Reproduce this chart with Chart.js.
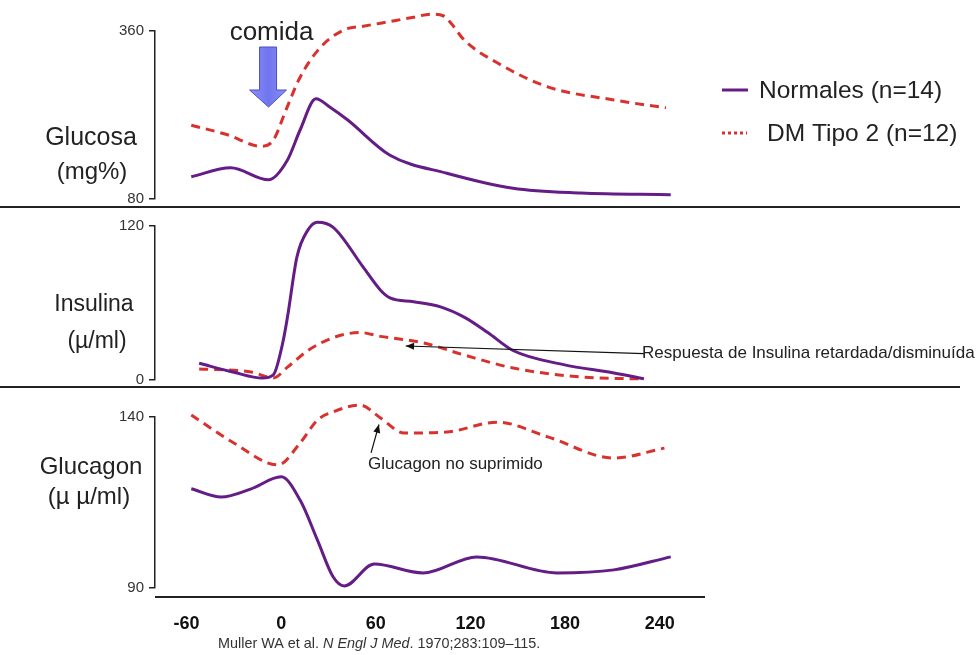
<!DOCTYPE html>
<html>
<head>
<meta charset="utf-8">
<title>Glucosa, insulina y glucagón</title>
<script src="https://cdn.jsdelivr.net/npm/chart.js@4.4.0/dist/chart.umd.min.js"></script>
<style>
  body { margin: 0; background: #fff; }
  #wrap { position: relative; width: 980px; height: 655px; }
  canvas { position: absolute; left: 0; }
</style>
</head>
<body>
<div id="wrap">
  <canvas id="glucosa" width="980" height="208" style="top:0"></canvas>
  <canvas id="insulina" width="980" height="180" style="top:208px"></canvas>
  <canvas id="glucagon" width="980" height="267" style="top:388px"></canvas>
</div>
<script>
// series names and time axis (minutes)
const seriesLabels = ['Normales (n=14)', 'DM Tipo 2 (n=12)'];
const timeTicks = [-60, 0, 60, 120, 180, 240];

// glucosa (mg%)
const glucosaNormT = [-57, -32, -8, 4, 12, 22, 31, 42, 69, 105, 147, 190, 247];
const glucosaNorm  = [117, 132, 112, 145, 195, 247, 233, 212, 153, 123, 98, 90, 87];
const glucosaDmT = [-57, -34, -13, -5, 3, 12, 25, 40, 52, 63, 84, 95, 103, 108, 116, 137, 169, 211, 244];
const glucosaDm  = [203, 187, 168, 178, 228, 283, 333, 362, 368, 373, 383, 388, 385, 372, 345, 307, 267, 245, 232];

// insulina (µ/ml)
const insulinaNormT = [-52, -30, -12, -5, 1, 4, 10, 17, 23, 33, 52, 63, 69, 84, 101, 116, 131, 147, 179, 211, 230];
const insulinaNorm  = [13, 6, 1.5, 4, 29, 49, 96, 117, 123, 119, 88, 70, 64, 61, 57, 49, 37, 23, 12, 5.5, 1];
const insulinaDmT = [-52, -19, -5, 4, 17, 33, 50, 63, 90, 116, 147, 190, 230];
const insulinaDm  = [8.6, 6.2, 1.6, 10, 23, 33, 37, 34, 29, 19.5, 9.4, 2.3, 0.8];

// glucagon (µ µ/ml)
const glucagonNormT = [-57, -38, -19, 0, 12, 23, 33, 40, 59, 90, 124, 175, 211, 247];
const glucagonNorm  = [119, 116.6, 119, 122.5, 115.7, 104, 93.2, 90.6, 97, 94.4, 99.1, 94.4, 95.3, 99.1];
const glucagonDmT = [-57, -30, -2, 12, 23, 33, 50, 63, 78, 105, 137, 169, 211, 243];
const glucagonDm  = [140.6, 132.4, 126, 132.4, 139.1, 141.5, 143.5, 139.7, 135.3, 135.6, 138.5, 134.2, 128, 130.9];

const FONT = '"Liberation Sans", Arial, sans-serif';
const ink = '#222';
const purple = '#641c86';
const red = '#d8322e';

Chart.defaults.font.family = FONT;

function series(t, v, dm) {
  return {
    label: seriesLabels[dm ? 1 : 0],
    data: t.map((x, i) => ({ x: x, y: v[i] })),
    borderColor: dm ? red : purple,
    borderWidth: 3,
    borderDash: dm ? [9, 6] : [],
    pointRadius: 0,
    cubicInterpolationMode: 'monotone',
    clip: false,
    fill: false
  };
}

function panelOptions(yMin, yMax, yTicks, padTop, padBottom, showX) {
  return {
    responsive: false,
    animation: false,
    devicePixelRatio: 1,
    layout: { padding: { left: 0, right: 273, top: padTop, bottom: padBottom } },
    plugins: { legend: { display: false }, tooltip: { enabled: false } },
    scales: {
      x: {
        type: 'linear', min: -80, max: 270, display: showX,
        afterBuildTicks: s => { s.ticks = timeTicks.map(v => ({ value: v })); },
        afterFit: s => { if (showX) s.height = 67; },
        grid: { display: false, drawTicks: false },
        border: { display: false },
        ticks: { padding: 25, color: '#111', font: { size: 18, weight: 'bold' } }
      },
      y: {
        type: 'linear', min: yMin, max: yMax,
        afterBuildTicks: s => { s.ticks = yTicks.map(v => ({ value: v })); },
        afterFit: s => { s.width = 155; s.paddingTop = 0; s.paddingBottom = 0; },
        border: { display: true, color: ink, width: 1.5 },
        grid: { drawOnChartArea: false, drawTicks: true, tickLength: 6, color: ink, lineWidth: 1.5 },
        ticks: { padding: 5, color: '#333', font: { size: 15 } }
      }
    }
  };
}

function text(ctx, str, x, y, size, align, weight) {
  ctx.save();
  ctx.fillStyle = ink;
  ctx.font = (weight || 'normal') + ' ' + size + 'px ' + FONT;
  ctx.textAlign = align || 'left';
  ctx.textBaseline = 'middle';
  ctx.fillText(str, x, y);
  ctx.restore();
}

function arrow(ctx, x1, y1, x2, y2) {
  const a = Math.atan2(y2 - y1, x2 - x1);
  ctx.save();
  ctx.strokeStyle = '#111';
  ctx.fillStyle = '#111';
  ctx.lineWidth = 1.2;
  ctx.beginPath();
  ctx.moveTo(x1, y1);
  ctx.lineTo(x2, y2);
  ctx.stroke();
  ctx.beginPath();
  ctx.moveTo(x2, y2);
  ctx.lineTo(x2 - 9 * Math.cos(a - 0.4), y2 - 9 * Math.sin(a - 0.4));
  ctx.lineTo(x2 - 9 * Math.cos(a + 0.4), y2 - 9 * Math.sin(a + 0.4));
  ctx.closePath();
  ctx.fill();
  ctx.restore();
}

function separator(chart) {
  const ctx = chart.ctx;
  ctx.save();
  ctx.fillStyle = ink;
  ctx.fillRect(0, chart.height - 2, 960, 2);
  ctx.restore();
}

// top panel: labels, meal arrow, legend
const glucosaDecor = {
  id: 'glucosaDecor',
  afterDraw(chart) {
    const ctx = chart.ctx;
    const x = chart.scales.x;
    text(ctx, 'Glucosa', 91, 138, 25, 'center');
    text(ctx, '(mg%)', 92, 172, 24, 'center');

    // comida
    const cx = x.getPixelForValue(-8);
    text(ctx, 'comida', cx + 3, 33, 26, 'center');
    ctx.save();
    const g = ctx.createLinearGradient(cx - 18, 0, cx + 18, 0);
    g.addColorStop(0, '#8a8ef6');
    g.addColorStop(0.5, '#7075ef');
    g.addColorStop(1, '#8a8ef6');
    ctx.fillStyle = g;
    ctx.strokeStyle = '#4a4fc4';
    ctx.lineWidth = 1;
    ctx.beginPath();
    ctx.moveTo(cx - 9, 47);
    ctx.lineTo(cx + 8, 47);
    ctx.lineTo(cx + 8, 90);
    ctx.lineTo(cx + 18, 90);
    ctx.lineTo(cx, 107);
    ctx.lineTo(cx - 19, 90);
    ctx.lineTo(cx - 9, 90);
    ctx.closePath();
    ctx.fill();
    ctx.stroke();
    ctx.restore();

    // legend
    const ds = chart.data.datasets;
    ctx.save();
    ctx.lineWidth = 3;
    ctx.strokeStyle = purple;
    ctx.beginPath(); ctx.moveTo(722, 90); ctx.lineTo(748, 90); ctx.stroke();
    ctx.strokeStyle = red;
    ctx.setLineDash([3, 3]);
    ctx.beginPath(); ctx.moveTo(722, 133); ctx.lineTo(747, 133); ctx.stroke();
    ctx.restore();
    text(ctx, ds[0].label, 759, 91, 24.5);
    text(ctx, ds[1].label, 767, 134, 24.5);

    separator(chart);
  }
};

// middle panel: labels and delayed insulin note
const insulinaDecor = {
  id: 'insulinaDecor',
  afterDraw(chart) {
    const ctx = chart.ctx;
    const x = chart.scales.x, y = chart.scales.y;
    text(ctx, 'Insulina', 94, 97, 23, 'center');
    text(ctx, '(µ/ml)', 97, 134, 23, 'center');
    arrow(ctx, x.getPixelForValue(230), y.getPixelForValue(20.5), x.getPixelForValue(79), y.getPixelForValue(26.5));
    text(ctx, 'Respuesta de Insulina retardada/disminuída', 642, 145, 17);
    separator(chart);
  }
};

// bottom panel: labels, x axis line, note and reference
const glucagonDecor = {
  id: 'glucagonDecor',
  afterDraw(chart) {
    const ctx = chart.ctx;
    const x = chart.scales.x, y = chart.scales.y;
    const area = chart.chartArea;
    text(ctx, 'Glucagon', 91, 79, 24, 'center');
    text(ctx, '(µ µ/ml)', 89, 109, 24, 'center');

    ctx.save();
    ctx.fillStyle = ink;
    ctx.fillRect(area.left, area.bottom + 8, 550, 2);
    ctx.restore();

    arrow(ctx, x.getPixelForValue(57), y.getPixelForValue(129.5), x.getPixelForValue(62), y.getPixelForValue(137.8));
    text(ctx, 'Glucagon no suprimido', 368, 76, 17);

    // reference line with italic journal name
    const parts = [['Muller WA et al. ', 'normal'], ['N Engl J Med', 'italic'], ['. 1970;283:109–115.', 'normal']];
    let px = 218;
    ctx.save();
    ctx.fillStyle = '#333';
    ctx.textBaseline = 'middle';
    parts.forEach(p => {
      ctx.font = p[1] + ' 14.4px ' + FONT;
      ctx.fillText(p[0], px, 256);
      px += ctx.measureText(p[0]).width;
    });
    ctx.restore();
  }
};

new Chart('glucosa', {
  type: 'line',
  data: { datasets: [series(glucosaNormT, glucosaNorm, false), series(glucosaDmT, glucosaDm, true)] },
  options: panelOptions(80, 360, [80, 360], 31, 9, false),
  plugins: [glucosaDecor]
});

new Chart('insulina', {
  type: 'line',
  data: { datasets: [series(insulinaNormT, insulinaNorm, false), series(insulinaDmT, insulinaDm, true)] },
  options: panelOptions(0, 120, [0, 120], 18, 8, false),
  plugins: [insulinaDecor]
});

new Chart('glucagon', {
  type: 'line',
  data: { datasets: [series(glucagonNormT, glucagonNorm, false), series(glucagonDmT, glucagonDm, true)] },
  options: panelOptions(90, 140, [90, 140], 29, 0, true),
  plugins: [glucagonDecor]
});
</script>
</body>
</html>
